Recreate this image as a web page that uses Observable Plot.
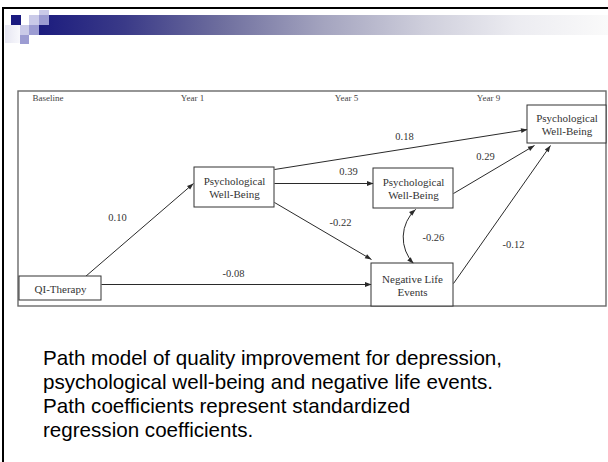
<!DOCTYPE html>
<html><head><meta charset="utf-8">
<script src="https://cdn.jsdelivr.net/npm/d3@7"></script>
<script src="https://cdn.jsdelivr.net/npm/@observablehq/plot@0.6"></script>
<style>
html,body{margin:0;padding:0;background:#fff;}
#slide{position:relative;width:608px;height:462px;overflow:hidden;background:#fff;}
.d{position:absolute;}
#chart{position:absolute;left:0;top:0;}
#caption{position:absolute;left:43px;top:346px;font-family:"Liberation Sans",Arial,sans-serif;font-size:20.6px;line-height:24px;color:#000;white-space:nowrap;}
</style></head><body>
<div id="slide">
  <!-- slide chrome (template decoration) -->
  <div class="d" style="left:2px;top:7px;width:606px;height:2px;background:#000"></div>
  <div class="d" style="left:2px;top:7px;width:2px;height:455px;background:#000"></div>
  <div class="d" style="left:39px;top:15px;width:569px;height:20px;background:linear-gradient(to right,#1c1c7e 0%,#3a3a88 15%,#6e6e9e 32%,#a4a4bf 50%,#cfcfdc 68%,#ececf1 84%,#fafafa 100%)"></div>
  <div class="d" style="left:5px;top:25px;width:15px;height:18px;background:linear-gradient(to right,#e6e6f2,#f8f8fc)"></div>
  <div class="d" style="left:11px;top:15px;width:10px;height:10px;background:#1a1a80"></div>
  <div class="d" style="left:29px;top:15px;width:10px;height:10px;background:#cacae8"></div>
  <div class="d" style="left:39px;top:10px;width:10px;height:5px;background:#cacae8"></div>
  <div class="d" style="left:39px;top:15px;width:10px;height:10px;background:#9c9cd2"></div>
  <div class="d" style="left:20px;top:25px;width:9px;height:10px;background:#cacae8"></div>
  <div class="d" style="left:29px;top:25px;width:10px;height:10px;background:#9c9cd2"></div>
  <div class="d" style="left:20px;top:35px;width:9px;height:9px;background:#9c9cd2"></div>
  <div id="chart"></div>
  <div id="caption">Path model of quality improvement for depression,<br>psychological well-being and negative life events.<br>Path coefficients represent standardized<br>regression coefficients.</div>
</div>
<script>
// ---- data ----
const timeLabels = ["Baseline", "Year 1", "Year 5", "Year 9"];
const nodeIds = ["qi", "pwb1", "pwb5", "nle5", "pwb9"];
const nodeLabels = ["QI-Therapy", "Psychological\nWell-Being", "Psychological\nWell-Being", "Negative Life\nEvents", "Psychological\nWell-Being"];
const edgeFrom = ["qi", "qi", "pwb1", "pwb1", "pwb1", "pwb5", "nle5"];
const edgeTo   = ["pwb1", "nle5", "pwb5", "pwb9", "nle5", "pwb9", "pwb9"];
const coefficients = [0.10, -0.08, 0.39, 0.18, -0.22, 0.29, -0.12];
const correlationPair = ["pwb5", "nle5"];
const correlation = -0.26;

// ---- layout (diagram coordinates) ----
const frameBox = {x1: 18, y1: 91, x2: 606, y2: 306};
const timePos = {"Baseline": 47.5, "Year 1": 192, "Year 5": 346, "Year 9": 488};
const timeY = 97.5;
const boxPos = {
  qi:   {x1: 19,  y1: 276, x2: 101, y2: 300},
  pwb1: {x1: 194, y1: 167, x2: 274, y2: 207},
  pwb5: {x1: 373, y1: 168, x2: 453, y2: 208},
  nle5: {x1: 371, y1: 263, x2: 453, y2: 306},
  pwb9: {x1: 527, y1: 105, x2: 606, y2: 143}
};
const edgePos = [
  {x1: 85,  y1: 276, x2: 193, y2: 183, lx: 117, ly: 217},
  {x1: 101, y1: 284, x2: 371, y2: 284, lx: 233, ly: 273},
  {x1: 274, y1: 183, x2: 373, y2: 183, lx: 348, ly: 171},
  {x1: 274, y1: 169, x2: 527, y2: 129, lx: 404, ly: 136},
  {x1: 274, y1: 202, x2: 371, y2: 259, lx: 340, ly: 222},
  {x1: 453, y1: 193, x2: 534, y2: 145, lx: 485, ly: 156},
  {x1: 453, y1: 283, x2: 550, y2: 145, lx: 513, ly: 244}
];
const corrBend = 46;
const corrPos = {x1: 413, y1: 263, x2: 415, y2: 209, lx: 422, ly: 237};

// ---- build tables ----
const nodes = nodeIds.map((id, i) => ({id, label: nodeLabels[i], ...boxPos[id],
  cx: (boxPos[id].x1 + boxPos[id].x2) / 2, cy: (boxPos[id].y1 + boxPos[id].y2) / 2}));
const edges = edgeFrom.map((f, i) => ({from: f, to: edgeTo[i], coef: coefficients[i], ...edgePos[i]}));
const times = timeLabels.map(t => ({t, x: timePos[t], y: timeY}));
const corr = [{pair: correlationPair, coef: correlation, ...corrPos}];

const deg = 180 / Math.PI;
const heads = edges.map(e => ({x: e.x2, y: e.y2, angle: Math.atan2(e.y2 - e.y1, e.x2 - e.x1) * deg + 90}));
for (const c of corr) {
  const a = Math.atan2(c.y2 - c.y1, c.x2 - c.x1) * deg;
  heads.push({x: c.x2, y: c.y2, angle: a + corrBend + 90});
  heads.push({x: c.x1, y: c.y1, angle: a - corrBend + 180 + 90});
}
const arrowHead = {draw(ctx) { const L = 6.5, w = 2.4; ctx.moveTo(0, 0); ctx.lineTo(-w, L); ctx.lineTo(w, L); ctx.closePath(); }};

const ink = "#2a2a2a";
const fmt = v => v.toFixed(2);
const serif = "'Liberation Serif', 'Times New Roman', serif";

const chart = Plot.plot({
  width: 608, height: 462,
  margin: 0,
  x: {domain: [0, 608], range: [0, 608], axis: null},
  y: {domain: [0, 462], range: [0, 462], axis: null},
  style: {fontFamily: serif, background: "transparent"},
  marks: [
    Plot.rect([frameBox], {x1: "x1", x2: "x2", y1: "y1", y2: "y2", fill: "none", stroke: "#6a6a6a", strokeWidth: 1.4}),
    Plot.text(times, {x: "x", y: "y", text: "t", fontSize: 9, fill: "#444", fontFamily: serif}),
    Plot.link(edges, {x1: "x1", y1: "y1", x2: "x2", y2: "y2", stroke: ink, strokeWidth: 1}),
    Plot.arrow(corr, {x1: "x1", y1: "y1", x2: "x2", y2: "y2", bend: corrBend, headLength: 0, stroke: ink, strokeWidth: 1}),
    Plot.rect(nodes, {x1: "x1", x2: "x2", y1: "y1", y2: "y2", fill: "white", stroke: "#333", strokeWidth: 1}),
    Plot.text(nodes, {x: "cx", y: "cy", text: "label", fontSize: 11, lineHeight: 1.18, fill: "#333", fontFamily: serif}),
    Plot.dot(heads, {x: "x", y: "y", rotate: "angle", symbol: arrowHead, r: 3, fill: ink, stroke: "none"}),
    Plot.text(edges, {x: "lx", y: "ly", text: d => fmt(d.coef), fontSize: 10.5, fill: "#333", fontFamily: serif}),
    Plot.text(corr, {x: "lx", y: "ly", text: d => fmt(d.coef), fontSize: 10.5, fill: "#333", textAnchor: "start", fontFamily: serif})
  ]
});
document.getElementById("chart").appendChild(chart);
</script>
</body></html>
